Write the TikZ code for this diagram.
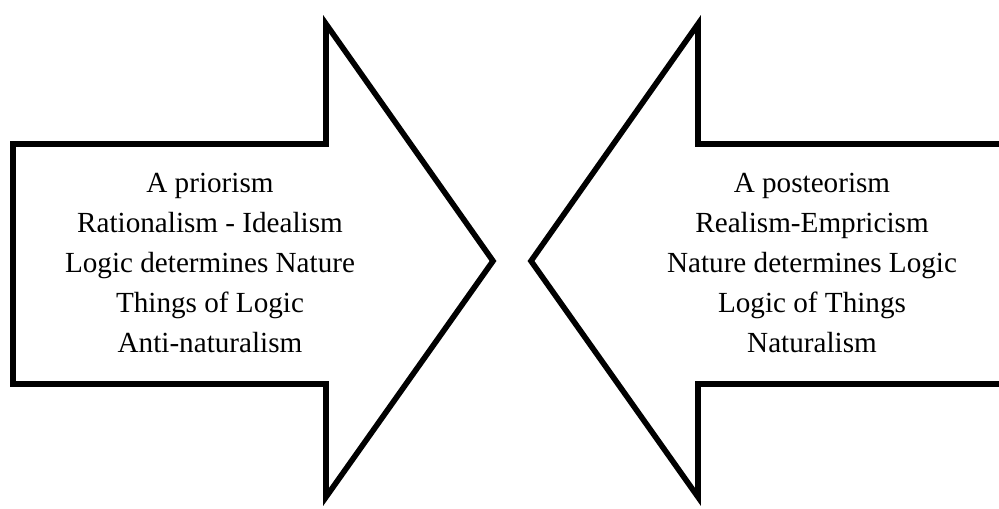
\documentclass[tikz,border=0pt]{standalone}
\usepackage{fontspec}
\setmainfont{Liberation Serif}
\usepackage{tikz}
\usetikzlibrary{positioning, calc}

\begin{document}
\begin{tikzpicture}[
  x=0.02cm, y=-0.02cm,
  bigarrow/.style={draw=black, line width=3.2pt, line join=miter, fill=white},
  txt/.style={align=center, font=\fontsize{16.6}{22.8}\selectfont, inner sep=0pt}
]
  \clip (0,0) rectangle (999,509);
  \useasboundingbox (0,0) rectangle (999,509);

  %---------------- LEFT ARROW ----------------%
  \draw[bigarrow] (13,144) -- (326,144) -- (326,24) -- (493,261) -- (326,497) -- (326,384) -- (13,384) -- cycle;
  \node[txt] (apriori) at (210,263) {A priorism\\Rationalism - Idealism\\Logic determines Nature\\Things of Logic\\Anti-naturalism};

  %---------------- RIGHT ARROW ----------------%
  \draw[bigarrow] (1015,144) -- (698,144) -- (698,24) -- (531,261) -- (698,497) -- (698,384) -- (1015,384) -- cycle;
  \node[txt] (aposteriori) at (812,263) {A posteorism\\Realism-Empricism\\Nature determines Logic\\Logic of Things\\Naturalism};

\end{tikzpicture}
\end{document}
